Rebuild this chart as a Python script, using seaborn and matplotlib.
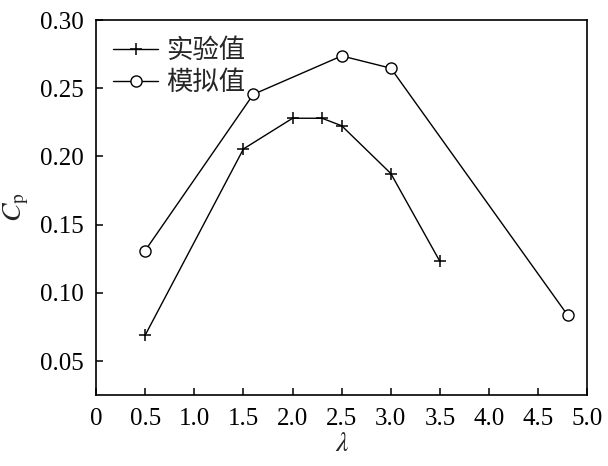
import matplotlib
matplotlib.use("Agg")
import matplotlib.pyplot as plt
import seaborn as sns
import pandas as pd

exp_x = [0.5, 1.5, 2.0, 2.3, 2.5, 3.0, 3.5]
exp_y = [0.069, 0.2055, 0.228, 0.228, 0.2225, 0.1875, 0.123]
sim_x = [0.5, 1.6, 2.5, 3.0, 4.8]
sim_y = [0.131, 0.2455, 0.2737, 0.2647, 0.0836]
labels = ["实验值", "模拟值"]
xticks = [0, 0.5, 1.0, 1.5, 2.0, 2.5, 3.0, 3.5, 4.0, 4.5, 5.0]
xticklabels = ["0", "0.5", "1.0", "1.5", "2.0", "2.5", "3.0", "3.5", "4.0", "4.5", "5.0"]
yticks = [0.05, 0.10, 0.15, 0.20, 0.25, 0.30]

sns.set_style("ticks")
plt.rcParams["font.family"] = ["Liberation Serif", "Noto Sans CJK SC"]
plt.rcParams["mathtext.fontset"] = "stix"

df_exp = pd.DataFrame({"x": exp_x, "y": exp_y})
df_sim = pd.DataFrame({"x": sim_x, "y": sim_y})

fig = plt.figure(figsize=(6.08, 4.66), dpi=100)
ax = fig.add_axes([0.158, 0.152, 0.808, 0.805])

sns.lineplot(data=df_exp, x="x", y="y", ax=ax, color="black", lw=1.0,
             marker="+", markersize=8, markeredgewidth=1.1,
             markeredgecolor="black", label=labels[0], sort=False)
sns.lineplot(data=df_sim, x="x", y="y", ax=ax, color="black", lw=1.0,
             marker="o", markersize=8, markerfacecolor="white",
             markeredgewidth=1.0, markeredgecolor="black",
             label=labels[1], sort=False)

ax.set_xlim(0, 5.0)
ax.set_ylim(0.025, 0.30)
ax.set_xticks(xticks)
ax.set_xticklabels(xticklabels)
ax.set_yticks(yticks)
ax.set_yticklabels([f"{v:.2f}" for v in yticks])
ax.tick_params(direction="in", length=5, width=1.1, labelsize=18, color="black",
               labelcolor="black", pad=9)
for s in ax.spines.values():
    s.set_linewidth(1.2)
    s.set_color("black")

ax.set_xlabel(r"$\lambda$", fontsize=20, labelpad=2)
ax.set_ylabel(r"$C_{\mathrm{p}}$", fontsize=20, labelpad=6)

leg = ax.legend(loc="upper left", frameon=False, handlelength=1.7,
                handletextpad=0.3, labelspacing=0.2, borderaxespad=0.35,
                borderpad=0.3,
                prop={"family": ["Noto Sans CJK SC"], "size": 19})

fig.savefig("out.png", dpi=100)
